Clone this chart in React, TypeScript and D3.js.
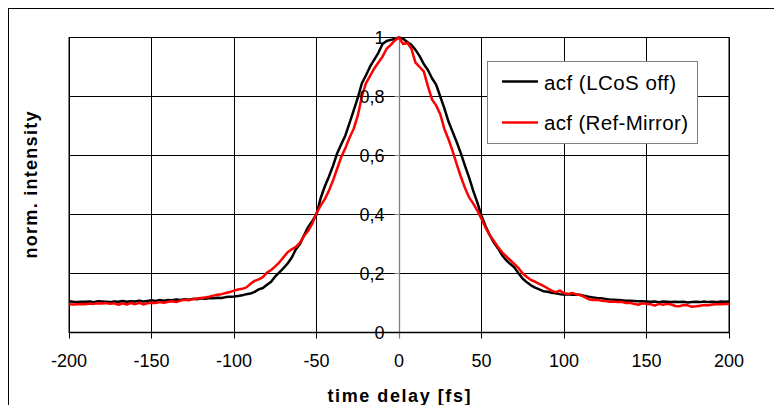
import React from "react";
import * as d3 from "d3";

// time delay axis (fs), sampled every 2.5 fs
const timeDelay: number[] = d3.range(0, 161).map((i) => -200 + 2.5 * i);

const acfLCoSOff: number[] = [
  0.106, 0.104, 0.103, 0.104, 0.104, 0.105, 0.103, 0.106, 0.105, 0.104, 0.103, 0.105, 0.104, 0.107, 0.104, 0.106, 0.105, 0.108, 0.105, 0.107, 0.109,
  0.107, 0.110, 0.108, 0.110, 0.109, 0.112, 0.110, 0.113, 0.111, 0.114, 0.113, 0.116, 0.114, 0.117, 0.116, 0.118, 0.117, 0.120, 0.121, 0.122,
  0.124, 0.126, 0.130, 0.132, 0.138, 0.146, 0.151, 0.162, 0.172, 0.190, 0.204, 0.218, 0.234, 0.254, 0.282, 0.300, 0.330, 0.358, 0.378, 0.400,
  0.455, 0.495, 0.528, 0.565, 0.607, 0.638, 0.668, 0.710, 0.752, 0.795, 0.845, 0.872, 0.902, 0.925, 0.948, 0.978, 0.988, 0.992, 0.995, 1.000,
  0.996, 0.985, 0.975, 0.958, 0.937, 0.910, 0.890, 0.862, 0.840, 0.800, 0.760, 0.715, 0.680, 0.645, 0.607, 0.565, 0.525, 0.480, 0.440, 0.395,
  0.360, 0.330, 0.305, 0.285, 0.262, 0.245, 0.232, 0.220, 0.200, 0.182, 0.170, 0.160, 0.152, 0.146, 0.140, 0.138, 0.135, 0.133, 0.130, 0.129,
  0.130, 0.128, 0.129, 0.127, 0.124, 0.121, 0.119, 0.117, 0.116, 0.114, 0.112, 0.111, 0.110, 0.109, 0.108, 0.108, 0.107, 0.106, 0.106, 0.105,
  0.104, 0.105, 0.103, 0.105, 0.104, 0.103, 0.104, 0.103, 0.104, 0.102, 0.103, 0.104, 0.103, 0.105, 0.103, 0.104, 0.103, 0.105, 0.104, 0.105,
];

const acfRefMirror: number[] = [
  0.096, 0.095, 0.096, 0.097, 0.096, 0.098, 0.097, 0.099, 0.098, 0.100, 0.097, 0.099, 0.094, 0.099, 0.095, 0.100, 0.096, 0.101, 0.095, 0.099, 0.101,
  0.100, 0.103, 0.101, 0.104, 0.106, 0.103, 0.108, 0.111, 0.109, 0.113, 0.115, 0.117, 0.119, 0.121, 0.125, 0.128, 0.130, 0.134, 0.137, 0.142,
  0.146, 0.148, 0.153, 0.165, 0.175, 0.180, 0.188, 0.203, 0.212, 0.224, 0.238, 0.255, 0.272, 0.282, 0.290, 0.305, 0.328, 0.345, 0.370, 0.405,
  0.430, 0.452, 0.480, 0.515, 0.555, 0.595, 0.625, 0.660, 0.690, 0.735, 0.800, 0.845, 0.870, 0.895, 0.915, 0.935, 0.962, 0.975, 0.990, 1.000,
  0.978, 0.982, 0.962, 0.915, 0.900, 0.885, 0.835, 0.790, 0.770, 0.740, 0.690, 0.655, 0.615, 0.570, 0.528, 0.490, 0.458, 0.437, 0.413, 0.385,
  0.355, 0.330, 0.310, 0.290, 0.272, 0.258, 0.245, 0.232, 0.218, 0.200, 0.188, 0.178, 0.172, 0.165, 0.158, 0.150, 0.142, 0.137, 0.142, 0.133,
  0.131, 0.134, 0.129, 0.127, 0.120, 0.113, 0.110, 0.111, 0.108, 0.107, 0.104, 0.105, 0.103, 0.104, 0.100, 0.101, 0.097, 0.094, 0.099, 0.097,
  0.096, 0.091, 0.097, 0.094, 0.097, 0.095, 0.090, 0.089, 0.093, 0.092, 0.087, 0.089, 0.091, 0.093, 0.092, 0.095, 0.096, 0.096, 0.097, 0.097,
];

const xTicks: number[] = [-200, -150, -100, -50, 0, 50, 100, 150, 200];
const yTicks: number[] = [0, 0.2, 0.4, 0.6, 0.8, 1];
const yTickLabels: string[] = ["0", "0,2", "0,4", "0,6", "0,8", "1"];
const seriesNames: string[] = ["acf (LCoS off)", "acf (Ref-Mirror)"];
const seriesColors: string[] = ["#000000", "#ff0000"];

const FONT = "'Liberation Sans', Arial, sans-serif";

export default function App() {
  const left = 69, right = 729, top = 37.5, bottom = 332.5;
  const x = d3.scaleLinear().domain([-200, 200]).range([left, right]);
  const y = d3.scaleLinear().domain([0, 1]).range([bottom, top]);
  const line = d3
    .line<number>()
    .x((_, i) => x(timeDelay[i]))
    .y((d) => y(d));
  const series = [acfLCoSOff, acfRefMirror];
  const snap = (v: number) => Math.round(v - 0.5) + 0.5;
  const x0 = snap(x(0));
  const legendTextLengths = [132, 144];

  return (
    <svg
      width={774}
      height={405}
      style={{ position: "absolute", left: 0, top: 0, background: "#fff" }}
      fontFamily={FONT}
    >
      <rect x={0} y={0} width={774} height={405} fill="#fff" />
      {/* outer chart frame */}
      <rect x={8.5} y={8.5} width={800} height={500} fill="none" stroke="#000" strokeWidth={1} />

      {/* horizontal gridlines */}
      {yTicks.map((t) => (
        <line key={"hg" + t} x1={left} x2={right} y1={snap(y(t))} y2={snap(y(t))} stroke="#000" strokeWidth={1} />
      ))}
      {/* vertical gridlines */}
      {xTicks
        .filter((t) => t !== 0)
        .map((t) => (
          <line key={"vg" + t} x1={snap(x(t))} x2={snap(x(t))} y1={top} y2={bottom} stroke="#000" strokeWidth={1} />
        ))}
      {/* plot frame */}
      <rect x={left} y={top} width={right - left} height={bottom - top} fill="none" stroke="#000" strokeWidth={1} />

      {/* y axis at x=0 */}
      <line x1={x0} x2={x0} y1={top} y2={bottom + 6} stroke="#808080" strokeWidth={1.3} />
      {yTicks.map((t) => (
        <line key={"yt" + t} x1={x0 - 5} x2={x0} y1={snap(y(t))} y2={snap(y(t))} stroke="#808080" strokeWidth={1} />
      ))}

      {/* x axis ticks */}
      {xTicks
        .filter((t) => t !== 0)
        .map((t) => (
          <line key={"xt" + t} x1={snap(x(t))} x2={snap(x(t))} y1={bottom} y2={bottom + 6} stroke="#000" strokeWidth={1} />
        ))}
      <line x1={left} x2={right} y1={bottom} y2={bottom} stroke="#000" strokeWidth={1.3} />

      {/* series */}
      {series.map((s, k) => (
        <path
          key={"s" + k}
          d={line(s) || ""}
          fill="none"
          stroke={seriesColors[k]}
          strokeWidth={2.5}
          strokeLinejoin="round"
        />
      ))}

      {/* y tick labels */}
      {yTicks.map((t, i) => (
        <text key={"yl" + t} x={384.5} y={y(t) + 6.3} fontSize={18} textAnchor="end" fill="#000">
          {yTickLabels[i]}
        </text>
      ))}
      {/* x tick labels */}
      {xTicks.map((t) => (
        <text key={"xl" + t} x={x(t)} y={366.5} fontSize={18} textAnchor="middle" fill="#000">
          {t}
        </text>
      ))}

      {/* axis titles */}
      <text
        x={x(0)}
        y={401.5}
        fontSize={18}
        fontWeight="bold"
        textAnchor="middle"
        textLength={143}
        lengthAdjust="spacing"
        fill="#000"
      >
        time delay [fs]
      </text>
      <text
        transform={`translate(37,${(top + bottom) / 2}) rotate(-90)`}
        fontSize={18}
        fontWeight="bold"
        textAnchor="middle"
        textLength={147}
        lengthAdjust="spacing"
        fill="#000"
      >
        norm. intensity
      </text>

      {/* legend */}
      <rect x={487.5} y={61.5} width={210} height={82} fill="#fff" stroke="#808080" strokeWidth={1} />
      {seriesNames.map((name, k) => (
        <g key={"lg" + k}>
          <line x1={502} x2={538} y1={81.5 + k * 41} y2={81.5 + k * 41} stroke={seriesColors[k]} strokeWidth={2.5} />
          <text
            x={544}
            y={90 + k * 39.5}
            fontSize={20.5}
            textLength={legendTextLengths[k]}
            lengthAdjust="spacing"
            fill="#000"
          >
            {name}
          </text>
        </g>
      ))}
    </svg>
  );
}
